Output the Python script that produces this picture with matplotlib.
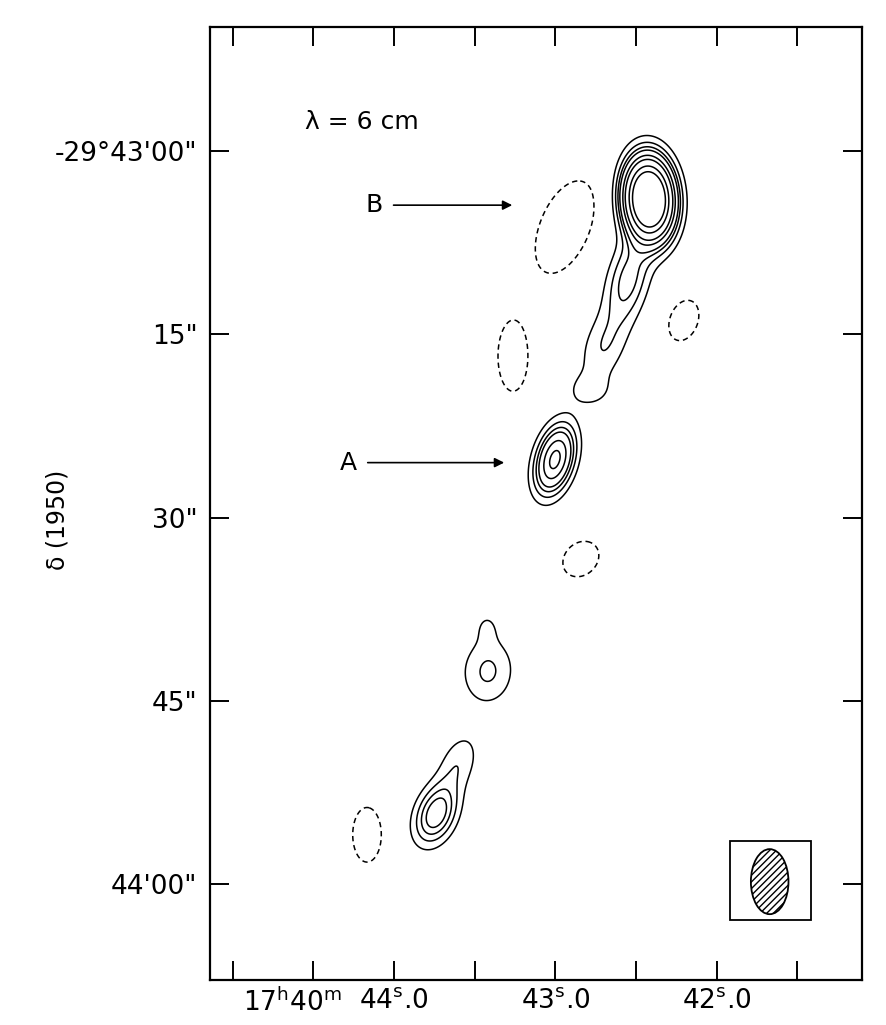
import numpy as np
import matplotlib.pyplot as plt
from matplotlib.patches import Rectangle, Ellipse

# Sources: RA seconds (17h40m xx s), dec offset in arcsec south of -29d43'00"
comp_ra = [42.42, 42.55, 42.70, 42.79, 43.003, 43.418, 43.424, 43.740, 43.604]
comp_dec = [3.9, 10.5, 16.0, 19.6, 25.25, 42.6, 38.9, 54.3, 50.2]
comp_peak = [30.0, 3.5, 1.9, 1.2, 8.7, 2.2, 0.9, 5.0, 1.8]
comp_smaj = [2.0, 2.4, 2.2, 1.0, 1.85, 1.9, 1.0, 1.7, 1.8]
comp_smin = [1.18, 1.1, 1.2, 1.3, 0.95, 1.45, 0.75, 1.05, 1.0]
comp_tilt = [-3, 13, 18, 0, 15, 5, 0, 21, 21]

# negative (dashed) features
neg_ra = [42.941, 43.263, 42.204, 42.842, 44.167]
neg_dec = [6.2, 16.8, 13.85, 33.4, 56.0]
neg_peak = [-2.0, -2.0, -2.0, -2.0, -2.0]
neg_smaj = [3.4, 2.42, 1.45, 1.35, 1.9]
neg_smin = [1.7, 1.02, 0.96, 1.1, 0.98]
neg_tilt = [22, 0, 20, 45, 0]

pos_levels = [1, 2, 3, 4, 6, 8, 12, 16]
neg_levels = [-1]

# beam (restoring beam) in the lower right corner
beam_ra = 41.672
beam_dec = 59.84
beam_w = 0.233   # RA seconds
beam_h = 5.33    # arcsec
beam_box_ra = [41.92, 41.418]
beam_box_dec = [56.5, 63.0]

xticks = [45.0, 44.5, 44.0, 43.5, 43.0, 42.5, 42.0, 41.5]
xlabels = ['', '', r'44$^{\rm s}$.0', '', r'43$^{\rm s}$.0', '', r'42$^{\rm s}$.0', '']
yticks = [0, 15, 30, 45, 60]
ylabels = ['-29°43\'00"', '15"', '30"', '45"', '44\'00"']

SEC = 15 * np.cos(np.radians(29.72))  # arcsec per RA second

ra = np.linspace(41.0, 45.3, 800)
dec = np.linspace(-12, 70, 1200)
RA, DEC = np.meshgrid(ra, dec)


def add_gauss(Z, r0, d0, p, smaj, smin, tilt):
    dx = (r0 - RA) * SEC      # + toward west (right)
    dy = d0 - DEC             # + toward north (up)
    t = np.radians(tilt)
    u = dy * np.cos(t) + dx * np.sin(t)
    v = -dy * np.sin(t) + dx * np.cos(t)
    return Z + p * np.exp(-0.5 * ((u / smaj) ** 2 + (v / smin) ** 2))


Z = np.zeros_like(RA)
for i in range(len(comp_ra)):
    Z = add_gauss(Z, comp_ra[i], comp_dec[i], comp_peak[i], comp_smaj[i], comp_smin[i], comp_tilt[i])
for i in range(len(neg_ra)):
    Z = add_gauss(Z, neg_ra[i], neg_dec[i], neg_peak[i], neg_smaj[i], neg_smin[i], neg_tilt[i])

plt.rcParams['font.family'] = 'DejaVu Sans'
plt.rcParams['mathtext.fontset'] = 'dejavusans'

fig = plt.figure(figsize=(8.86, 10.25), dpi=100)
ax = fig.add_axes([210 / 886, 1 - 980 / 1025, 652 / 886, 953 / 1025])

ax.contour(RA, DEC, Z, levels=pos_levels, colors='k', linewidths=1.1, linestyles='solid')
ax.contour(RA, DEC, Z, levels=neg_levels, colors='k', linewidths=1.1,
           linestyles=[(0, (3.5, 2.5))])

ax.set_xlim(45.14, 41.10)
ax.set_ylim(67.9, -10.2)

ax.set_xticks(xticks)
ax.set_xticklabels(xlabels)
ax.set_yticks(yticks)
ax.set_yticklabels(ylabels)
ax.tick_params(direction='in', length=14, width=1.4, top=True, right=True,
               labelsize=19, pad=9)
ax.tick_params(axis='x', pad=6)
for sp in ax.spines.values():
    sp.set_linewidth(1.6)

fig.text(243 / 886, 1 - 1003 / 1025, r'17$^{\rm h}$40$^{\rm m}$', fontsize=19,
         ha='left', va='center')
fig.text(57 / 886, 1 - 520 / 1025, 'δ (1950)', fontsize=17, rotation=90,
         ha='center', va='center')

ax.text(44.55, -2.4, 'λ = 6 cm', fontsize=18, ha='left', va='center')
ax.text(44.12, 4.4, 'B', fontsize=18, ha='center', va='center')
ax.annotate('', xy=(43.25, 4.4), xytext=(44.02, 4.4),
            arrowprops=dict(arrowstyle='-|>', color='k', lw=1.2, mutation_scale=14))
ax.text(44.28, 25.5, 'A', fontsize=18, ha='center', va='center')
ax.annotate('', xy=(43.3, 25.5), xytext=(44.18, 25.5),
            arrowprops=dict(arrowstyle='-|>', color='k', lw=1.2, mutation_scale=14))

ax.add_patch(Rectangle((beam_box_ra[0], beam_box_dec[0]), beam_box_ra[1] - beam_box_ra[0],
                       beam_box_dec[1] - beam_box_dec[0], fill=False, ec='k', lw=1.3))
ax.add_patch(Ellipse((beam_ra, beam_dec), beam_w, beam_h, fc='white', ec='k', lw=1.3,
                     hatch='/////'))

fig.savefig('out.png', dpi=100)
